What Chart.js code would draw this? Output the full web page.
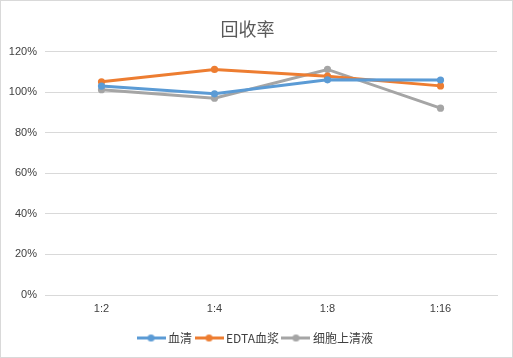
<!DOCTYPE html>
<html><head><meta charset="utf-8">
<script src="https://cdn.jsdelivr.net/npm/chart.js@4/dist/chart.umd.min.js"></script>
<style>html,body{margin:0;padding:0;background:#fff}#wrap{width:513px;height:358px;position:relative}</style>
</head><body><div id="wrap"><canvas id="c" width="513" height="358"></canvas></div>
<script>
const categories = ['1:2', '1:4', '1:8', '1:16'];
const seriesNames = ['血清', 'EDTA血浆', '细胞上清液'];
const serum = [103, 99.2, 106.1, 106];
const edtaPlasma = [105.1, 111.2, 107.9, 103.1];
const supernatant = [101.2, 97, 111.2, 92.1];
const yTicks = [0, 20, 40, 60, 80, 100, 120];
const colors = ['#5B9BD5', '#ED7D31', '#A5A5A5'];

function legendIcon(color) {
  const cv = document.createElement('canvas');
  cv.width = 29; cv.height = 9;
  const x = cv.getContext('2d');
  x.strokeStyle = color; x.lineWidth = 3;
  x.beginPath(); x.moveTo(0, 4.5); x.lineTo(29, 4.5); x.stroke();
  x.fillStyle = color; x.beginPath(); x.arc(14.5, 4.5, 3.6, 0, Math.PI * 2); x.fill();
  return cv;
}

const borderPlugin = {
  id: 'outerBorder',
  afterDraw(chart) {
    const ctx = chart.ctx;
    ctx.save();
    ctx.strokeStyle = '#d9d9d9'; ctx.lineWidth = 1;
    ctx.strokeRect(0.5, 0.5, chart.width - 1, chart.height - 1);
    ctx.restore();
  }
};

const datasets = [serum, edtaPlasma, supernatant].map((d, i) => ({
  label: seriesNames[i], data: d,
  borderColor: colors[i], backgroundColor: colors[i],
  borderWidth: 3, pointRadius: 3.6, pointHoverRadius: 3.6,
  pointBorderWidth: 0, tension: 0
}));

new Chart(document.getElementById('c'), {
  type: 'line',
  data: { labels: categories, datasets },
  plugins: [borderPlugin],
  options: {
    responsive: false, animation: false,
    layout: { padding: { left: 0, right: 0, top: 0, bottom: 4 } },
    plugins: {
      title: { display: true, text: '回收率\u3000', color: '#595959',
        font: { family: '"Noto Sans CJK SC"', size: 18, weight: 'normal' },
        padding: { top: 18, bottom: 12 } },
      legend: { position: 'bottom',
        labels: { usePointStyle: true, pointStyleWidth: 22, padding: 6, boxHeight: 9,
          color: '#404040', font: { family: '"Noto Sans CJK SC"', size: 12 },
          generateLabels(chart) {
            return chart.data.datasets.map((ds, i) => ({
              text: ds.label, pointStyle: legendIcon(colors[i]),
              fillStyle: colors[i], strokeStyle: colors[i], lineWidth: 0,
              hidden: false, datasetIndex: i, fontColor: '#404040'
            }));
          } } },
      tooltip: { enabled: false }
    },
    scales: {
      x: {
        offset: true,
        grid: { display: false, drawTicks: false, offset: true },
        border: { display: true, color: '#d9d9d9', width: 1 },
        ticks: { color: '#404040', padding: 7, font: { family: '"Liberation Sans"', size: 11 } },
        afterFit(s) { s.height = 31; }
      },
      y: {
        min: 0, max: 120,
        grid: { color: '#d9d9d9', drawTicks: false },
        border: { display: false },
        afterBuildTicks(s) { s.ticks = yTicks.map(v => ({ value: v })); },
        ticks: { color: '#404040', padding: 8, font: { family: '"Liberation Sans"', size: 11 },
          callback: v => v + '%' },
        afterFit(s) { s.width = 45; }
      },
      yRight: {
        position: 'right', min: 0, max: 120,
        grid: { display: false, drawTicks: false },
        border: { display: false },
        ticks: { display: false },
        afterFit(s) { s.width = 16; }
      }
    }
  }
});
</script></body></html>
